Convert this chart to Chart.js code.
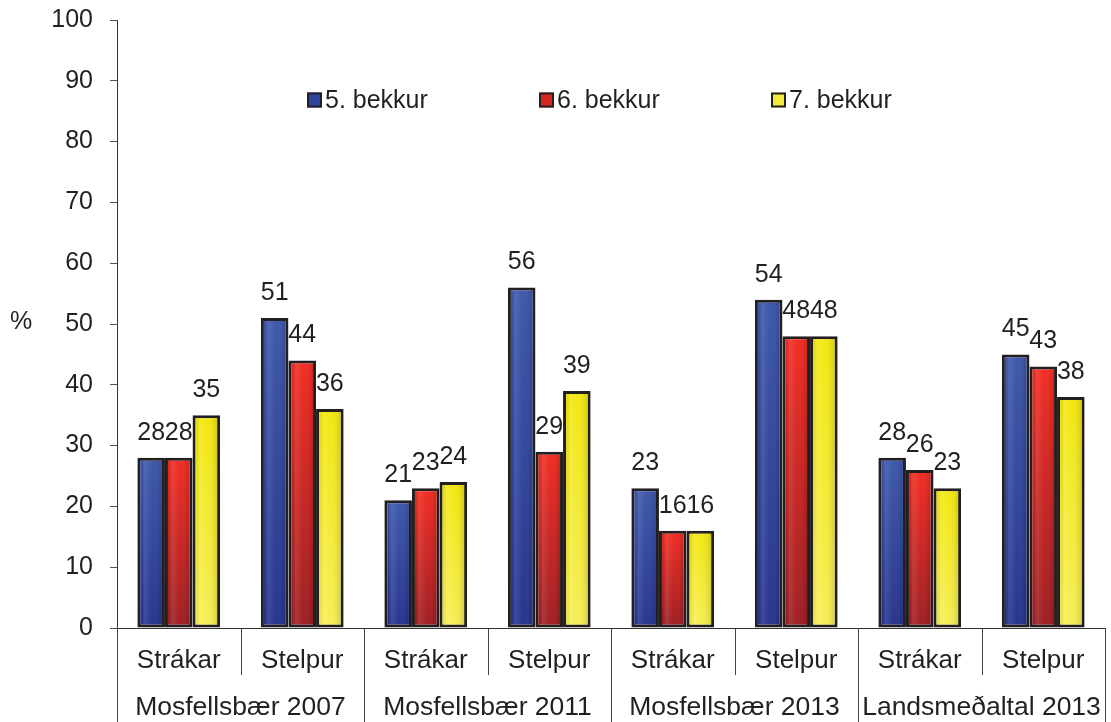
<!DOCTYPE html>
<html>
<head>
<meta charset="utf-8">
<script src="https://cdn.jsdelivr.net/npm/chart.js@4"></script>
<style>
  body { margin: 0; background: #fff; }
  #wrap { width: 1111px; height: 722px; }
</style>
</head>
<body>
<div id="wrap"><canvas id="chart"></canvas></div>
<script>
const categories = ['Strákar', 'Stelpur', 'Strákar', 'Stelpur', 'Strákar', 'Stelpur', 'Strákar', 'Stelpur']
const groups = ['Mosfellsbær 2007', 'Mosfellsbær 2011', 'Mosfellsbær 2013', 'Landsmeðaltal 2013']
const seriesNames = ['5. bekkur', '6. bekkur', '7. bekkur']
const bekkur5 = [28, 51, 21, 56, 23, 54, 28, 45]
const bekkur6 = [28, 44, 23, 29, 16, 48, 26, 43]
const bekkur7 = [35, 36, 24, 39, 16, 48, 23, 38]
const yMin = 0, yMax = 100, yStep = 10
const yUnit = '%'

const FONT = "'Liberation Sans', Arial, sans-serif"
const INK = '#231f20'

// top / bottom colours of each bar fill, plus the flat legend colour
const shades = [
    { top: '#3b56aa', bottom: '#24318d', key: '#2d43a0' },
    { top: '#f22a20', bottom: '#9c1c20', key: '#d92420' },
    { top: '#f2e70c', bottom: '#f6ee55', key: '#f3ea3a' }
]

function barFill(i) {
    return function(ctx) {
        const chart = ctx.chart
        if (!chart.chartArea || ctx.raw === undefined) return shades[i].key
        const ys = chart.scales.y
        const g = chart.ctx.createLinearGradient(0, ys.getPixelForValue(ctx.raw), 0, ys.getPixelForValue(0))
        g.addColorStop(0, shades[i].top)
        g.addColorStop(1, shades[i].bottom)
        return g
    }
}

// sideways shading inside every bar
const barShine = {
    id: 'barShine',
    afterDatasetsDraw(chart) {
        const c = chart.ctx
        chart.data.datasets.forEach((ds, di) => {
            chart.getDatasetMeta(di).data.forEach(el => {
                const p = el.getProps(['x', 'y', 'base', 'width'], true)
                const l = p.x - p.width / 2 + 3, r = p.x + p.width / 2 - 3
                const g = c.createLinearGradient(l, 0, r, 0)
                g.addColorStop(0, 'rgba(0,0,0,0.05)')
                g.addColorStop(0.2, 'rgba(255,255,255,0.12)')
                g.addColorStop(0.55, 'rgba(255,255,255,0.02)')
                g.addColorStop(1, 'rgba(0,0,0,0.12)')
                c.save()
                c.fillStyle = g
                c.fillRect(l, p.y + 3, r - l, p.base - p.y - 6)
                c.restore()
            })
        })
    }
}

// value labels above the bars
const valueLabels = {
    id: 'valueLabels',
    afterDatasetsDraw(chart) {
        const c = chart.ctx
        c.save()
        c.font = '25px ' + FONT
        c.fillStyle = INK
        c.textAlign = 'center'
        c.textBaseline = 'middle'
        chart.data.datasets.forEach((ds, di) => {
            chart.getDatasetMeta(di).data.forEach((el, i) => {
                c.fillText(String(ds.data[i]), el.x, el.y - 25)
            })
        })
        c.restore()
    }
}

// group row under the category labels, separators, legend and unit
const extras = {
    id: 'extras',
    afterDraw(chart) {
        const c = chart.ctx
        const a = chart.chartArea
        const w = (a.right - a.left) / categories.length
        const H = chart.height

        c.save()
        c.strokeStyle = '#444'
        c.lineWidth = 1
        for (let i = 0; i <= categories.length; i++) {
            const x = Math.round(a.left + i * w) + 0.5
            c.beginPath()
            c.moveTo(x, a.bottom)
            c.lineTo(x, i % 2 === 0 ? H : a.bottom + 47)
            c.stroke()
        }

        c.font = '26.5px ' + FONT
        c.fillStyle = INK
        c.textAlign = 'center'
        c.textBaseline = 'middle'
        groups.forEach((g, gi) => {
            c.fillText(g, a.left + (gi * 2 + 1) * w, 708)
        })

        c.textAlign = 'left'
        c.font = '25px ' + FONT
        c.fillText(yUnit, 10, 322)

        // legend
        chart.data.datasets.forEach((ds, di) => {
            const x = 307 + di * 232, y = 100
            c.fillStyle = shades[di].key
            c.fillRect(x, y - 7.5, 15, 15)
            c.strokeStyle = INK
            c.lineWidth = 2
            c.strokeRect(x + 1, y - 6.5, 13, 13)
            c.fillStyle = INK
            c.fillText(ds.label, x + 18, y + 1)
        })
        c.restore()
    }
}

const series = [bekkur5, bekkur6, bekkur7]

new Chart(document.getElementById('chart'), {
    type: 'bar',
    data: {
        labels: categories,
        datasets: series.map((vals, i) => ({
            label: seriesNames[i],
            data: vals,
            backgroundColor: barFill(i),
            borderColor: INK,
            borderWidth: 3,
            borderSkipped: false,
            categoryPercentage: 0.67,
            barPercentage: 1
        }))
    },
    options: {
        responsive: true,
        maintainAspectRatio: false,
        animation: false,
        layout: { padding: { top: 20, right: 6, left: 0, bottom: 0 } },
        plugins: {
            legend: { display: false },
            tooltip: { enabled: false }
        },
        scales: {
            x: {
                offset: true,
                grid: { display: false },
                border: { display: true, color: '#333', width: 1 },
                ticks: { color: INK, font: { family: FONT, size: 26 }, padding: 9, maxRotation: 0 },
                afterFit(s) { s.height = 94; s.paddingLeft = 0; s.paddingRight = 0 }
            },
            y: {
                min: yMin,
                max: yMax,
                grid: { drawOnChartArea: false, tickLength: 7, color: '#555' },
                border: { display: true, color: '#333', width: 1 },
                ticks: { stepSize: yStep, color: INK, font: { family: FONT, size: 25 }, padding: 17 },
                afterFit(s) { s.width = 117; s.paddingTop = 0; s.paddingBottom = 0 }
            }
        }
    },
    plugins: [barShine, valueLabels, extras]
})
</script>
</body>
</html>
